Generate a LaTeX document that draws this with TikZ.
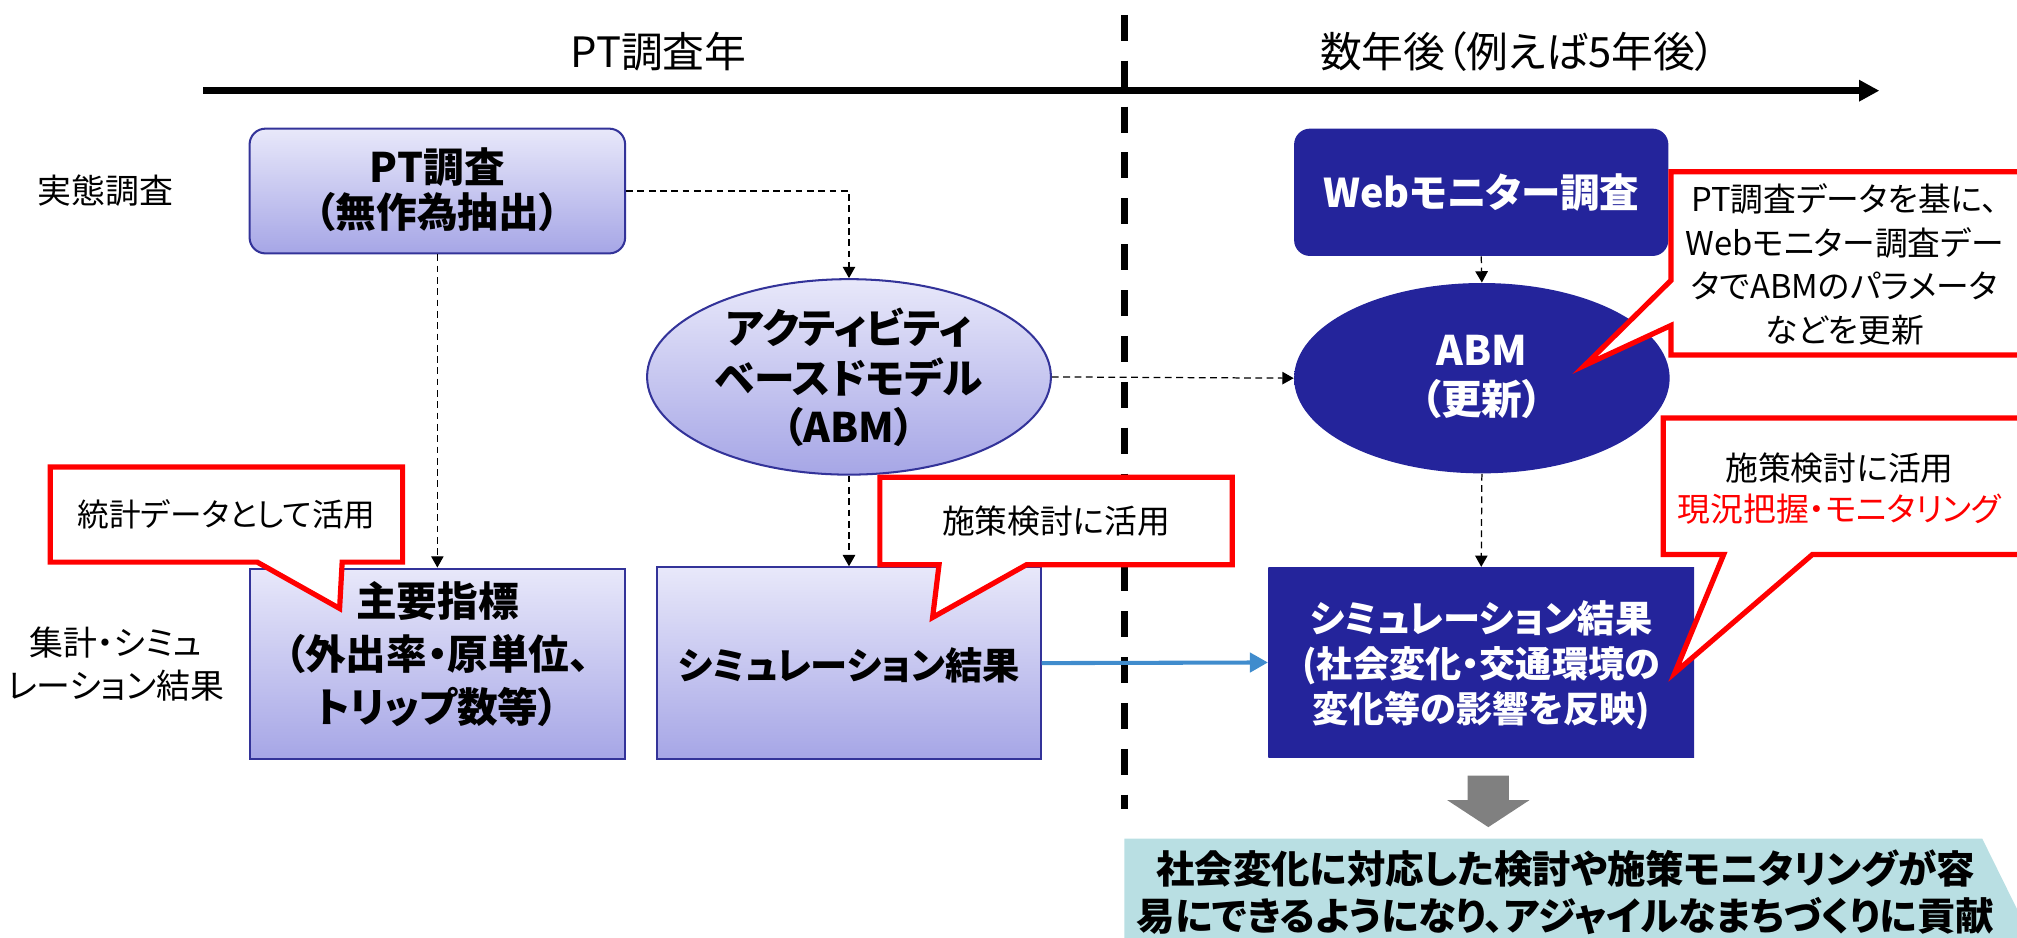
\documentclass[tikz,border=0pt]{standalone}
\usepackage{fontspec}
\setmainfont{Noto Sans CJK JP}[RawFeature=+palt]
\usetikzlibrary{arrows.meta,shapes.geometric}
\definecolor{ltop}{RGB}{232,232,250}
\definecolor{lbot}{RGB}{166,166,230}
\definecolor{bdr}{RGB}{51,51,153}
\definecolor{dkmid}{RGB}{36,36,155}
\definecolor{dktop}{RGB}{86,86,215}
\definecolor{dkbot}{RGB}{26,26,118}
\definecolor{redc}{RGB}{255,0,0}
\definecolor{bluea}{RGB}{64,140,205}
\definecolor{greya}{RGB}{128,128,128}
\definecolor{bannerc}{RGB}{185,223,227}
\pgfdeclareverticalshading{darkbevel}{100bp}{color(0bp)=(dkbot); color(5bp)=(dkmid); color(92bp)=(dkmid); color(97bp)=(dktop); color(100bp)=(dktop)}
\tikzset{
  lbox/.style={draw=bdr, line width=0.9pt, top color=ltop, bottom color=lbot, inner sep=0pt},
  dbox/.style={shading=darkbevel, draw=none, inner sep=0pt},
  btxt/.style={font=\bfseries\fontsize{18}{22.5}\selectfont, align=center, inner sep=0pt},
  wtxt/.style={btxt, text=white},
  ctxt/.style={font=\fontsize{14.5}{19}\selectfont, align=center, inner sep=0pt},
  hdr/.style={font=\fontsize{18.5}{22}\selectfont, inner sep=0pt},
  dlink/.style={dash pattern=on 3pt off 2pt, line width=0.55pt, -{Triangle[length=5pt,width=5.5pt]}},
  redcall/.style={draw=redc, line width=2.3pt, fill=white, line join=miter},
}
\begin{document}
\begin{tikzpicture}[x=0.02cm,y=-0.02cm]
\useasboundingbox (0,0) rectangle (1568,729);
% headers and timeline
\node[hdr] (h1) at (512,40) {PT調査年};
\node[hdr] (h2) at (1180,40) {数年後（例えば5年後）};
\coordinate (tl0) at (158,70.5);
\coordinate (tl1) at (1461,70.5);
\draw[line width=3.1pt, -{Triangle[length=9pt,width=9pt]}] (tl0) -- (tl1);
\coordinate (v0) at (874,11.5);
\coordinate (v1) at (874,629);
\draw[line width=3.1pt, dash pattern=on 11.5pt off 8.8pt] (v0) -- (v1);
% row labels
\node[ctxt, font=\fontsize{15}{19}\selectfont] (r1) at (82,148) {実態調査};
\node[ctxt, font=\fontsize{15}{19}\selectfont] (r2) at (90,516) {集計・シミュ\\レーション結果};
% boxes
\node[lbox, rounded corners=7pt, minimum width=5.84cm, minimum height=1.94cm] (pt) at (340,148.5) {};
\node[btxt, font=\bfseries\fontsize{18}{20}\selectfont] (pttxt) at (340,147.5) {PT調査\\（無作為抽出）};
\node[lbox, minimum width=5.84cm, minimum height=2.96cm] (kpi) at (340,516) {};
\node[btxt, font=\bfseries\fontsize{18}{23.5}\selectfont] (kpitxt) at (340,508.5) {主要指標\\（外出率・原単位、\\トリップ数等）};
\node[lbox, ellipse, minimum width=6.28cm, minimum height=3.04cm] (abm) at (660,293) {};
\node[btxt, font=\bfseries\fontsize{18}{22}\selectfont] (abmtxt) at (660,293.5) {アクティビティ\\ベースドモデル\\（ABM）};
\node[lbox, minimum width=5.96cm, minimum height=2.98cm] (sim) at (660,515.5) {};
\node[btxt, font=\bfseries\fontsize{16.5}{20}\selectfont] (simtxt) at (660,517) {シミュレーション結果};
\node[dbox, rounded corners=7pt, minimum width=5.82cm, minimum height=1.98cm] (web) at (1151.5,149.5) {};
\node[wtxt, font=\bfseries\fontsize{17.5}{20}\selectfont] (webtxt) at (1151.5,150) {Webモニター調査};
\node[dbox, ellipse, minimum width=5.84cm, minimum height=2.96cm] (abm2) at (1152,294) {};
\node[wtxt, font=\bfseries\fontsize{18}{22}\selectfont] (abm2txt) at (1152,293) {ABM\\（更新）};
\node[dbox, minimum width=6.62cm, minimum height=2.96cm] (simr) at (1151.5,515) {};
\node[wtxt, font=\bfseries\fontsize{16}{20}\selectfont] (simrtxt) at (1151.5,517) {{\fontsize{16.5}{20}\selectfont シミュレーション結果}\\(社会変化・交通環境の\\変化等の影響を反映)};
% connectors
\draw[dlink] (pt.south) -- (kpi.north);
\draw[dlink] (pt.east) -| (abm.north);
\draw[dlink] (abm.south) -- (sim.north);
\draw[dlink] (abm.east) -- (abm2.west);
\draw[dlink] (web.south) -- (abm2.north);
\draw[dlink] (abm2.south) -- (simr.north);
\draw[bluea, line width=1.8pt, -{Triangle[length=8pt,width=8.5pt]}] (sim.east) -- (simr.west);
% callouts
\draw[redcall] (39,363) -- (313,363) -- (313,437) -- (266,437) -- (264,473) -- (200,437) -- (39,437) -- cycle;
\node[ctxt, font=\fontsize{14}{19}\selectfont] (c1txt) at (176,400) {統計データとして活用};
\draw[redcall] (684,371) -- (958,371) -- (958,439) -- (798,439) -- (725,480) -- (730,439) -- (684,439) -- cycle;
\node[ctxt] (c2txt) at (821,405) {施策検討に活用};
\draw[redcall] (1299,133.5) -- (1590,133.5) -- (1590,276) -- (1299,276) -- (1299,253) -- (1232,284) -- (1299,218) -- cycle;
\node[ctxt, font=\fontsize{14.5}{19.2}\selectfont] (c3txt) at (1434,205.5) {PT調査データを基に、\\Webモニター調査デー\\タでABMのパラメータ\\などを更新};
\draw[redcall] (1293,325) -- (1590,325) -- (1590,431) -- (1409,431) -- (1302,523) -- (1340,431) -- (1293,431) -- cycle;
\node[ctxt, font=\fontsize{14.5}{18}\selectfont] (c4txt) at (1430,380) {施策検討に活用\\\textcolor{redc}{現況把握・モニタリング}};
% bottom
\fill[greya] (1141,603) -- (1173,603) -- (1173,622) -- (1189,622) -- (1157,643) -- (1125,622) -- (1141,622) -- cycle;
\fill[bannerc] (874,652) -- (1541,652) -- (1580,731) -- (1541,810) -- (874,810) -- cycle;
\node[btxt, font=\bfseries\fontsize{17}{21}\selectfont] (bantxt) at (1217,693.5) {社会変化に対応した検討や施策モニタリングが容\\易にできるようになり、アジャイルなまちづくりに貢献};
\end{tikzpicture}
\end{document}
